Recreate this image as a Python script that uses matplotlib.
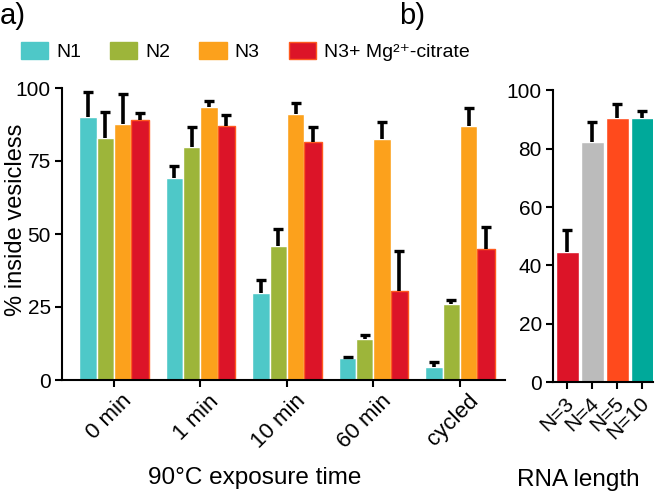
import numpy as np
import matplotlib
matplotlib.use("Agg")
import matplotlib.pyplot as plt
from matplotlib.patches import Patch
from matplotlib.transforms import ScaledTranslation

plt.rcParams['font.family'] = ['Liberation Sans', 'DejaVu Sans']
plt.rcParams['mathtext.default'] = 'regular'

# ------------------------------------------------------------
# Daten Panel a
groups = ['0 min', '1 min', '10 min', '60 min', 'cycled']
series_names = ['N1', 'N2', 'N3', 'N3+ Mg²⁺-citrate']
n1 = [90.0, 69.3, 29.9, 7.4, 4.6]
n1_err = [8.7, 4.1, 4.3, 0.6, 1.4]
n2 = [83.0, 79.9, 46.0, 14.1, 26.0]
n2_err = [8.7, 6.6, 5.8, 1.2, 1.4]
n3 = [87.7, 93.6, 91.1, 82.5, 87.1]
n3_err = [10.1, 1.8, 3.7, 5.7, 5.9]
n3mg = [88.9, 86.9, 81.4, 30.4, 44.7]
n3mg_err = [2.4, 3.7, 5.1, 13.9, 7.6]

# Daten Panel b
lengths = ['N=3', 'N=4', 'N=5', 'N=10']
len_vals = [44.7, 82.3, 90.5, 90.7]
len_err = [7.5, 6.9, 4.8, 2.1]

# Farben
colors_a = ['#4EC8C8', '#9DB53A', '#FCA11C', '#DC1428']
edges_a = ['white', 'white', 'white', '#FF5A1F']
colors_b = ['#DC1428', '#BBBBBB', '#FF4A1C', '#00A99A']


def upper_errorbar(a, pos, vals, err):
    # nur obere Fehlerbalken mit Kappe
    top = np.asarray(vals) + np.asarray(err)
    a.vlines(pos, vals, top, colors='black', linewidth=2.6, clip_on=False)
    a.plot(pos, top, linestyle='none', marker='_', markersize=7.5,
           markeredgewidth=2.4, color='black', clip_on=False)


# ------------------------------------------------------------
fig = plt.figure(figsize=(6.66, 4.95), dpi=100)
ax = fig.add_axes([62/666, 1-380/495, 443/666, 292/495])
axb = fig.add_axes([553/666, 1-382/495, 100/666, 291.6/495])

x = np.arange(len(groups))
w = 0.2
data = [(n1, n1_err), (n2, n2_err), (n3, n3_err), (n3mg, n3mg_err)]
for i, (vals, err) in enumerate(data):
    pos = x + (i - 1.5) * w
    ax.bar(pos, vals, width=w, color=colors_a[i], edgecolor=edges_a[i], linewidth=1)
    upper_errorbar(ax, pos, vals, err)

ax.set_xlim(-0.6, 4.52)
ax.set_ylim(0, 100)
ax.set_yticks([0, 25, 50, 75, 100])
ax.set_xticks(x)
ax.set_xticklabels(groups, rotation=45, ha='right', va='center', rotation_mode='anchor')
ax.set_ylabel('% inside vesicless', fontsize=17)
ax.yaxis.set_label_coords(-0.079, 0.55)
ax.set_xlabel('90°C exposure time', fontsize=17.5)
ax.xaxis.set_label_coords(0.436, -0.298)

xb = np.arange(len(lengths))
axb.bar(xb, len_vals, width=0.92, color=colors_b, edgecolor='white', linewidth=1)
upper_errorbar(axb, xb, len_vals, len_err)
axb.set_xlim(-0.56, 3.44)
axb.set_ylim(0, 100)
axb.set_yticks([0, 20, 40, 60, 80, 100])
axb.set_xticks(xb)
axb.set_xticklabels(lengths, rotation=45, ha='right', va='center', rotation_mode='anchor')
axb.set_xlabel('RNA length', fontsize=17.5)
axb.xaxis.set_label_coords(0.25, -0.298)

for a in (ax, axb):
    a.spines['top'].set_visible(False)
    a.spines['right'].set_visible(False)
    a.spines['left'].set_linewidth(1.5)
    a.spines['bottom'].set_linewidth(1.5)
    a.tick_params(direction='out', length=5, width=1.5, labelsize=15, pad=3)
ax.tick_params(axis='x', labelsize=16)

# Verschiebung der gedrehten Beschriftungen (nach tick_params!)
for lab in ax.get_xticklabels():
    lab.set_transform(lab.get_transform() + ScaledTranslation(15/100, -7/100, fig.dpi_scale_trans))
for lab in axb.get_xticklabels():
    lab.set_transform(lab.get_transform() + ScaledTranslation(4/100, -7/100, fig.dpi_scale_trans))

# Legende
handles = [Patch(facecolor=colors_a[i], edgecolor=edges_a[i] if i == 3 else colors_a[i])
           for i in range(4)]
fig.legend(handles, series_names, loc='upper left', bbox_to_anchor=(21/666, 1-42/495),
           ncol=4, frameon=False, fontsize=14, handlelength=1.4, handleheight=0.95,
           handletextpad=0.4, columnspacing=1.5, borderpad=0, borderaxespad=0)

fig.text(0/666, 1-2/495, 'a)', fontsize=21, va='top', ha='left')
fig.text(399/666, 1-2/495, 'b)', fontsize=21, va='top', ha='left')

fig.savefig('out.png', dpi=100)
